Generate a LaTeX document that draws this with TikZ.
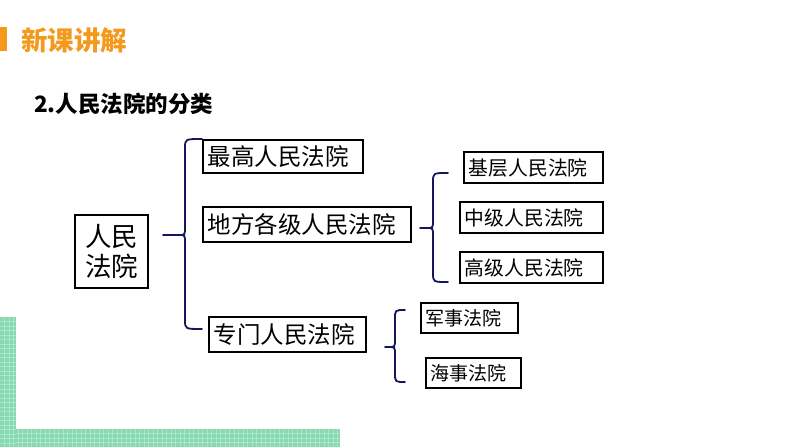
\documentclass[tikz,border=0pt]{standalone}
\usepackage{fontspec}
\newfontfamily\cjk{Noto Sans CJK SC}
\definecolor{navy}{HTML}{16165C}
\definecolor{orangeT}{HTML}{F39A1C}
\definecolor{gridgreen}{HTML}{86D9B0}
\tikzset{
  box/.style={draw=black,line width=1.6pt,anchor=west,inner xsep=5pt,inner ysep=0pt,align=left},
  brace/.style={draw=navy,line width=1.8pt,line cap=round},
}
\newcommand{\courtbrace}[6]{%
  \draw[brace] (#6,#2) .. controls (#1,#2) .. (#1,#2+9) -- (#1,#3-8) .. controls (#1,#3) .. (#1-6,#3) -- (#5,#3);
  \draw[brace] (#1-6,#3) .. controls (#1,#3) .. (#1,#3+8) -- (#1,#4-9) .. controls (#1,#4) .. (#6,#4);}
\begin{document}
\begin{tikzpicture}[x=1pt,y=-1pt]
\useasboundingbox (0,0) rectangle (794,447);
\fill[white] (0,0) rectangle (794,447);
% green grid decoration
\fill[gridgreen] (0,317) rectangle (16,447);
\fill[gridgreen] (0,429) rectangle (340,447);
\begin{scope}[draw=white,opacity=0.3,line width=0.5pt]
\foreach \y in {321.5,326,...,447} {\draw (0,\y) -- (16,\y);}
\foreach \x in {4.5,9,...,340} {\draw (\x,429) -- (\x,447);}
\foreach \x in {4.5,9,13.5} {\draw (\x,317) -- (\x,429);}
\foreach \y in {433.5,438,442.5} {\draw (16,\y) -- (340,\y);}
\end{scope}
% header
\fill[orangeT] (0,27) rectangle (7,51);
\node[anchor=west,text=orangeT,font=\cjk\bfseries\fontsize{26.5}{30}\selectfont,inner sep=0pt] (hdr) at (21,40) {新课讲解};
\node[anchor=west,font=\cjk\bfseries\fontsize{22.5}{26}\selectfont,inner sep=0pt] (sub) at (34,104) {2.人民法院的分类};
% root
\node[draw=black,line width=1.6pt,minimum width=73pt,minimum height=73pt,align=center,inner sep=0pt,
      font=\cjk\fontsize{26.5}{30}\selectfont] (root) at (111.5,251.5) {人民\\法院};
% level 1
\node[box,minimum width=160pt,minimum height=33pt,text width=150pt,font=\cjk\fontsize{23.5}{27}\selectfont] (b1) at (202,156.5) {最高人民法院};
\node[box,minimum width=208pt,minimum height=35pt,text width=198pt,font=\cjk\fontsize{23.5}{27}\selectfont] (b2) at (202,224.5) {地方各级人民法院};
\node[box,minimum width=157pt,minimum height=35pt,text width=147pt,font=\cjk\fontsize{23.5}{27}\selectfont] (b3) at (208,334.5) {专门人民法院};
% level 2
\node[box,minimum width=139pt,minimum height=31pt,text width=129pt,font=\cjk\fontsize{19.8}{23}\selectfont] (c1) at (463,167.5) {基层人民法院};
\node[box,minimum width=143pt,minimum height=31pt,text width=133pt,font=\cjk\fontsize{19.8}{23}\selectfont] (c2) at (459,217.5) {中级人民法院};
\node[box,minimum width=143pt,minimum height=31pt,text width=133pt,font=\cjk\fontsize{19.8}{23}\selectfont] (c3) at (459,267.5) {高级人民法院};
% level 3
\node[box,minimum width=97pt,minimum height=30pt,text width=87pt,font=\cjk\fontsize{19}{22}\selectfont] (d1) at (420,318) {军事法院};
\node[box,minimum width=95pt,minimum height=30pt,text width=85pt,font=\cjk\fontsize{19}{22}\selectfont] (d2) at (425,373) {海事法院};
% braces
\courtbrace{185}{139}{235}{329}{163}{202}
\courtbrace{433}{173}{228}{282}{420}{448}
\courtbrace{395}{310}{347}{382}{385}{405}
\end{tikzpicture}
\end{document}
